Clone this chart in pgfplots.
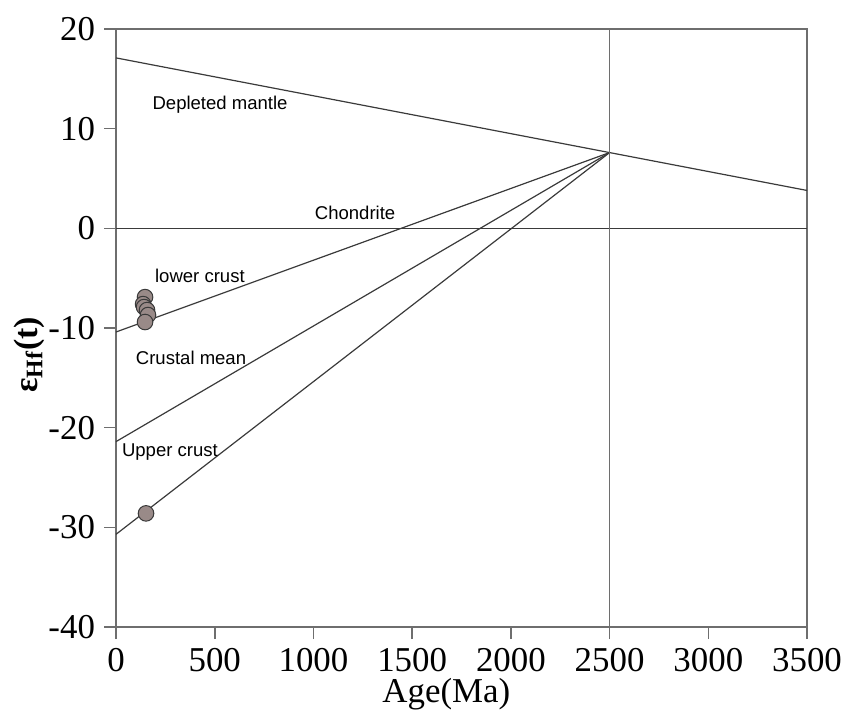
\documentclass[border=0pt]{standalone}
\usepackage{fontspec}
\setmainfont{Liberation Serif}
\newfontfamily\arialf{Liberation Sans}
\usepackage{pgfplots}
\pgfplotsset{compat=1.18}
\definecolor{axgray}{HTML}{6E6E6E}
\definecolor{lngray}{HTML}{3A3A3A}
\definecolor{ptfill}{HTML}{998A88}
\begin{document}
\begin{tikzpicture}
\begin{axis}[
  name=ax,
  scale only axis,
  width=345.5bp, height=299bp,
  xmin=0, xmax=3500, ymin=-40, ymax=20,
  xtick={0,500,1000,1500,2000,2500,3000,3500},
  xticklabels={0,500,1000,1500,2000,2500,3000,3500},
  ytick={-40,-30,-20,-10,0,10,20},
  yticklabels={-40,-30,-20,-10,0,10,20},
  tick pos=left,
  tick align=outside,
  major tick length=6bp,
  axis line style={axgray, line width=0.8bp},
  tick style={axgray, line width=0.8bp},
  ticklabel style={font=\fontsize{17.5}{20}\selectfont, text=black},
  xticklabel style={yshift=-1bp},
  yticklabel style={xshift=-1bp},
  clip=false,
]
% reference lines
\addplot[lngray, line width=0.6bp] coordinates {(0,17.1) (2500,7.6) (3500,3.8)};
\addplot[lngray, line width=0.6bp] coordinates {(0,-10.4) (2500,7.6)};
\addplot[lngray, line width=0.6bp] coordinates {(0,-21.4) (2500,7.6)};
\addplot[lngray, line width=0.6bp] coordinates {(0,-30.7) (2500,7.6)};
\addplot[lngray, line width=0.6bp] coordinates {(0,0) (3500,0)};
\addplot[axgray, line width=0.8bp] coordinates {(2500,-40) (2500,20)};
% data points
\addplot[only marks, mark=*, mark size=3.9bp, mark options={fill=ptfill, draw=lngray, line width=0.5bp}]
coordinates {(147,-6.9) (137,-7.6) (142,-7.9) (157,-8.2) (162,-8.7) (147,-9.4) (152,-28.6)};
% labels
\node[font=\arialf\fontsize{9.3}{11}\selectfont] at (axis cs:527,12.4) {Depleted mantle};
\node[font=\arialf\fontsize{9.3}{11}\selectfont] at (axis cs:1211,1.6) {Chondrite};
\node[font=\arialf\fontsize{9.3}{11}\selectfont] at (axis cs:425,-4.8) {lower crust};
\node[font=\arialf\fontsize{9.3}{11}\selectfont] at (axis cs:380,-13.0) {Crustal mean};
\node[font=\arialf\fontsize{9.3}{11}\selectfont] at (axis cs:273,-22.4) {Upper crust};
\node[anchor=base, font=\fontsize{17.5}{20}\selectfont] at (rel axis cs:0.478,-0.127) {Age(Ma)};
\node[rotate=90, font=\fontsize{17}{20}\selectfont\bfseries] at (rel axis cs:-0.126,0.455) {ε\textsubscript{Hf}(t)};
\coordinate (bl) at (rel axis cs:-0.1679,-0.1438);
\coordinate (tr) at (rel axis cs:1.0593,1.0485);
\end{axis}
\pgfresetboundingbox
\path[use as bounding box] (bl) rectangle (tr);
\end{tikzpicture}
\end{document}
